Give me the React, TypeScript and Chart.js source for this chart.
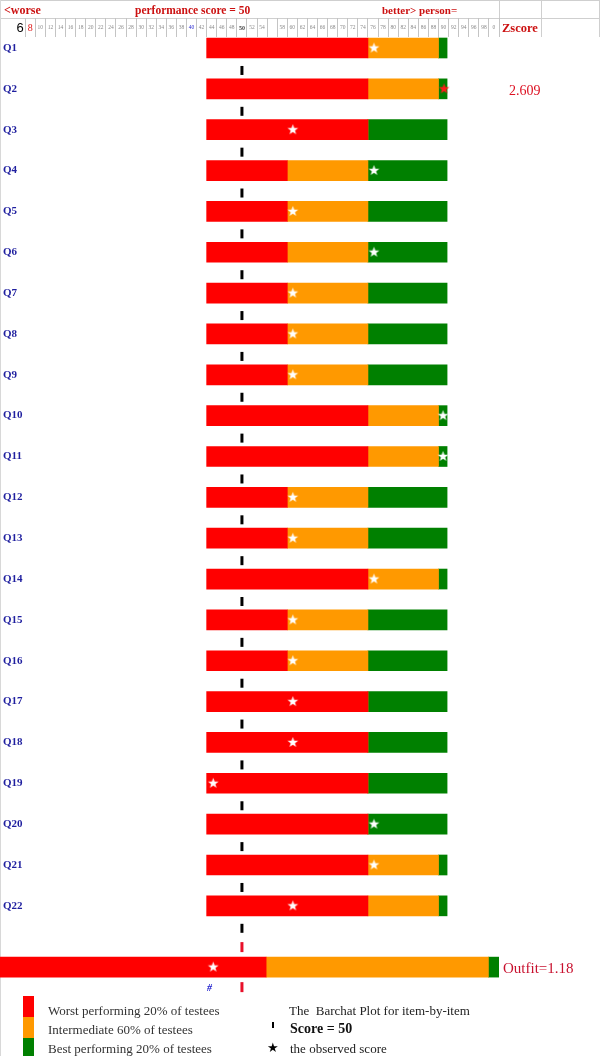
import React, { useEffect, useRef } from 'react';
import { Chart, registerables } from 'chart.js';

Chart.register(...registerables);

// ---------- data ----------
const items = ['Q1','Q2','Q3','Q4','Q5','Q6','Q7','Q8','Q9','Q10','Q11','Q12','Q13','Q14','Q15','Q16','Q17','Q18','Q19','Q20','Q21','Q22'];
// score where the red (worst 20%) band ends for each item
const redEnd = [75,75,75,59,59,59,59,59,59,75,75,59,59,75,59,59,75,75,75,75,75,75];
// score where the orange (intermediate 60%) band ends for each item
const orangeEnd = [89,89,75,75,75,75,75,75,75,89,89,75,75,89,75,75,75,75,75,75,89,89];
// observed score (star) of the person for each item
const observed = [76.2,90.1,60.1,76.2,60.1,76.2,60.1,60.1,60.1,89.9,89.9,60.1,60.1,76.2,60.1,60.1,60.1,60.1,44.3,76.2,76.2,60.1];
const itemStart = 43;
const itemEnd = 90.7;
const flaggedItems = ['Q2'];
const flaggedZ = ['2.609'];

// overall (outfit) bar
const outfitStart = 2;
const outfitRedEnd = 54.8;
const outfitOrangeEnd = 98.9;
const outfitEnd = 101;
const outfitObserved = 44.3;
const outfitText = 'Outfit=1.18';

const scoreMid = 50;

// ruler (top axis) ticks
const rulerValues = [6,8,10,12,14,16,18,20,22,24,26,28,30,32,34,36,38,40,42,44,46,48,50,52,54,56,58,60,62,64,66,68,70,72,74,76,78,80,82,84,86,88,90,92,94,96,98,100];
const rulerLabels = ['6','8','10','12','14','16','18','20','22','24','26','28','30','32','34','36','38','40','42','44','46','48','50','52','54','','58','60','62','64','66','68','70','72','74','76','78','80','82','84','86','88','90','92','94','96','98','0'];

// ---------- layout constants ----------
const X_MIN = 2;
const X_MAX = 101;
const Y_MIN = 0.7307;
const Y_MAX = 24.305;
const OUTFIT_ROW = 23.5;
const DASH_OFFSET = 0.55;
const RED_DASH_OFFSET = 0.49;

const RED = '#ff0000';
const ORANGE = '#ff9900';
const GREEN = '#008000';
const SERIF = "'Liberation Serif', 'DejaVu Serif', serif";

function makeStar(color: string) {
  const size = 13;
  const c = document.createElement('canvas');
  c.width = size;
  c.height = size;
  const ctx = c.getContext('2d')!;
  const cx = size / 2;
  const cy = size / 2;
  const R = 5.6;
  const r = 2.3;
  ctx.beginPath();
  for (let k = 0; k < 10; k++) {
    const rad = k % 2 === 0 ? R : r;
    const a = -Math.PI / 2 + (k * Math.PI) / 5;
    const px = cx + rad * Math.cos(a);
    const py = cy + rad * Math.sin(a);
    if (k === 0) ctx.moveTo(px, py);
    else ctx.lineTo(px, py);
  }
  ctx.closePath();
  ctx.fillStyle = color;
  ctx.fill();
  return c;
}

function BarchatPlot() {
  const ref = useRef<HTMLCanvasElement | null>(null);

  useEffect(() => {
    if (!ref.current) return;
    const whiteStar = makeStar('#ffffff');
    const redStar = makeStar('#ff1a1a');

    const rowY = items.map((_, i) => i + 1);

    const redData = [
      ...rowY.map((y, k) => ({ y, x: [itemStart, redEnd[k]] })),
      { y: OUTFIT_ROW, x: [outfitStart, outfitRedEnd] },
    ];
    const orangeData = [
      ...rowY.map((y, k) => ({ y, x: [redEnd[k], orangeEnd[k]] })),
      { y: OUTFIT_ROW, x: [outfitRedEnd, outfitOrangeEnd] },
    ];
    const greenData = [
      ...rowY.map((y, k) => ({ y, x: [orangeEnd[k], itemEnd] })),
      { y: OUTFIT_ROW, x: [outfitOrangeEnd, outfitEnd] },
    ];
    const starData = [
      ...rowY.map((y, k) => ({ y, x: observed[k] })),
      { y: OUTFIT_ROW, x: outfitObserved },
    ];
    const starStyles = [
      ...items.map((q) => (flaggedItems.includes(q) ? redStar : whiteStar)),
      whiteStar,
    ];
    const blackDashes = rowY.map((y) => ({ x: scoreMid, y: y + DASH_OFFSET }));
    const redDashes = [
      { x: scoreMid, y: OUTFIT_ROW - RED_DASH_OFFSET },
      { x: scoreMid, y: OUTFIT_ROW + RED_DASH_OFFSET },
    ];

    const barCommon = { grouped: false, barThickness: 20, borderWidth: 0, order: 3 };

    const chart = new Chart(ref.current, {
      type: 'bar',
      data: {
        datasets: [
          { label: 'worst', data: redData, backgroundColor: RED, ...barCommon },
          { label: 'mid', data: orangeData, backgroundColor: ORANGE, ...barCommon },
          { label: 'best', data: greenData, backgroundColor: GREEN, ...barCommon },
          {
            type: 'scatter',
            label: 'dash',
            indexAxis: 'x',
            data: blackDashes,
            pointStyle: 'line',
            rotation: 90,
            pointRadius: 4.5,
            borderWidth: 3,
            borderColor: '#000000',
            order: 1,
          },
          {
            type: 'scatter',
            label: 'reddash',
            indexAxis: 'x',
            data: redDashes,
            pointStyle: 'line',
            rotation: 90,
            pointRadius: 5,
            borderWidth: 3,
            borderColor: '#e8102a',
            order: 1,
          },
          {
            type: 'scatter',
            label: 'observed',
            indexAxis: 'x',
            data: starData,
            pointStyle: starStyles,
            pointRadius: 6,
            order: 0,
          },
        ] as any,
      },
      options: {
        indexAxis: 'y',
        responsive: false,
        animation: false,
        devicePixelRatio: 1,
        events: [],
        layout: { autoPadding: false, padding: { left: 0, top: 0, right: 600 - 499, bottom: 56 } },
        plugins: { legend: { display: false }, tooltip: { enabled: false }, title: { display: false } },
        scales: {
          x: {
            type: 'linear',
            position: 'top',
            min: X_MIN,
            max: X_MAX,
            offset: false,
            beginAtZero: false,
            afterBuildTicks: (s: any) => {
              s.ticks = rulerValues.map((v) => ({ value: v }));
            },
            afterFit: (s: any) => {
              s.height = 37;
            },
            grid: {
              display: true,
              drawOnChartArea: false,
              drawTicks: true,
              tickLength: 19,
              offset: true,
              lineWidth: 1,
              color: (c: any) => (c.index === 0 ? 'rgba(0,0,0,0)' : '#c4c4c4'),
            },
            border: { display: false },
            ticks: {
              autoSkip: false,
              maxRotation: 0,
              minRotation: 0,
              padding: -17,
              callback: (_v: any, i: number) => rulerLabels[i],
              color: (c: any) => {
                const l = rulerLabels[c.index];
                if (l === '6') return '#000000';
                if (l === '8') return '#dd1111';
                if (l === '40') return '#2a2ad0';
                if (l === '50') return '#444444';
                return '#8a8a8a';
              },
              font: (c: any) => {
                const l = rulerLabels[c.index];
                if (l === '6') return { family: "'Liberation Sans', Arial, sans-serif", size: 13, lineHeight: '14px' };
                if (l === '8') return { family: SERIF, size: 10, lineHeight: '14px' };
                if (l === '50') return { family: SERIF, size: 6, weight: 'bold', lineHeight: '14px' };
                return { family: SERIF, size: 5.5, lineHeight: '14px' };
              },
            },
          },
          y: {
            type: 'linear',
            position: 'left',
            reverse: true,
            min: Y_MIN,
            max: Y_MAX,
            offset: false,
            beginAtZero: false,
            afterBuildTicks: (s: any) => {
              s.ticks = items.map((_, i) => ({ value: i + 1 }));
            },
            afterFit: (s: any) => {
              s.width = 0;
            },
            grid: { display: false, drawTicks: false },
            border: { display: false },
            ticks: {
              mirror: true,
              padding: 3,
              autoSkip: false,
              callback: (v: any) => items[Math.round(v) - 1] ?? '',
              color: '#1f1f9f',
              font: { family: SERIF, size: 11, weight: 'bold' },
            },
          },
        },
      } as any,
    });
    return () => chart.destroy();
  }, []);

  return <canvas ref={ref} width={600} height={1056} style={{ display: 'block', position: 'absolute', left: 0, top: 0 }} />;
}

const txt = (
  left: number,
  center: number,
  text: string,
  style: React.CSSProperties = {},
  lh = 18
) => (
  <div
    style={{
      position: 'absolute',
      left,
      top: center - lh / 2,
      lineHeight: lh + 'px',
      height: lh,
      whiteSpace: 'pre',
      fontFamily: SERIF,
      ...style,
    }}
  >
    {text}
  </div>
);

const line = (left: number, top: number, width: number, height: number, color = '#cfcfcf') => (
  <div style={{ position: 'absolute', left, top, width, height, background: color }} />
);

export default function App() {
  const titleRed = '#cc1111';
  const legendColor = '#333333';
  return (
    <div style={{ position: 'absolute', left: 0, top: 0, width: 600, height: 1056, background: '#ffffff', overflow: 'hidden' }}>
      {/* header frame */}
      {line(0, 0, 600, 1)}
      {line(0, 18, 600, 1)}
      {line(0, 0, 1, 1056, '#d8d8d8')}
      {line(499, 0, 1, 37)}
      {line(541, 0, 1, 37)}
      {line(599, 0, 1, 37)}
      <BarchatPlot />
      {txt(4, 10, '<worse', { color: titleRed, fontWeight: 'bold', fontSize: 12 })}
      {txt(135, 10, 'performance score = 50', { color: titleRed, fontWeight: 'bold', fontSize: 11.5 })}
      {txt(382, 10, 'better> person=', { color: titleRed, fontWeight: 'bold', fontSize: 11 })}
      {txt(502, 28, 'Zscore', { color: titleRed, fontWeight: 'bold', fontSize: 12.5 })}
      {txt(509, 91, flaggedZ[0], { color: '#dd1122', fontSize: 14 })}
      {txt(503, 968, outfitText, { color: '#c8102e', fontSize: 15 })}
      {txt(207, 988, '#', { color: '#1a1acc', fontSize: 10, fontWeight: 'bold', fontStyle: 'italic' }, 14)}
      {/* legend */}
      {line(23, 996, 11, 21, RED)}
      {line(23, 1017, 11, 21, ORANGE)}
      {line(23, 1038, 11, 18, GREEN)}
      {txt(48, 1010, 'Worst performing 20% of testees', { color: legendColor, fontSize: 13 }, 19)}
      {txt(48, 1029, 'Intermediate 60% of testees', { color: legendColor, fontSize: 13 }, 19)}
      {txt(48, 1048, 'Best performing 20% of testees', { color: legendColor, fontSize: 13 }, 19)}
      {txt(289, 1010, 'The  Barchat Plot for item-by-item', { color: '#222222', fontSize: 13 }, 19)}
      {line(272, 1022, 2, 6, '#000000')}
      {txt(290, 1028, 'Score = 50', { color: '#111111', fontSize: 14, fontWeight: 'bold' }, 19)}
      {txt(267, 1047, '★', { color: '#000000', fontSize: 13, fontFamily: "'DejaVu Sans', sans-serif" }, 19)}
      {txt(290, 1048, 'the observed score', { color: '#222222', fontSize: 13 }, 19)}
    </div>
  );
}
